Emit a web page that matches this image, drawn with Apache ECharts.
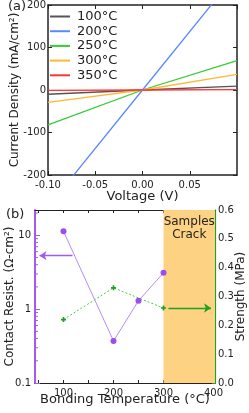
<!DOCTYPE html>
<html><head><meta charset="utf-8">
<script src="https://cdn.jsdelivr.net/npm/echarts@6/dist/echarts.min.js"></script>
<style>html,body{margin:0;padding:0;background:#fff}#c{width:249px;height:413px}</style>
</head><body><div id="c"></div>
<script>
// ---- Panel (a): I-V curves ----
const voltage = [-0.1, 0, 0.1];
const ivLabels = ['100°C', '200°C', '250°C', '300°C', '350°C'];
const j100 = [-10, 0, 9];
const j200 = [-275, 0, 275];
const j250 = [-82, 0, 69];
const j300 = [-29, 0, 37];
const j350 = [-1, 0, 1];

// ---- Panel (b): contact resistance & strength ----
const bondTemp = [100, 200, 250, 300];
const contactResist = [11.3, 0.37, 1.3, 3.1];
const strengthTemp = [100, 200, 300];
const strength = [0.22, 0.33, 0.26];
const crackRange = [300, 403];
const crackText = 'Samples\nCrack';
const resistArrow = [[118, 5.3], [52, 5.3]];
const strengthArrow = [[310, 0.26], [395, 0.26]];
const tempMin = 43, tempMax = 403;
const tempTicks = [50, 100, 150, 200, 250, 300, 350, 400];
const tempLabels = [100, 200, 300, 400];
const resistMinorTicks = [0.2, 0.3, 0.4, 0.5, 0.6, 0.7, 0.8, 0.9, 2, 3, 4, 5, 6, 7, 8, 9, 20];

const FONT = 'DejaVu Sans';
const INK = '#222';
const PURPLE = '#a05cf2';
const PURPLE_LINE = '#b98af5';
const GREEN_AX = '#1fa01f';
const GREEN_LINE = '#44cc44';
const GREEN_MK = '#20a020';
const ivColors = ['#555555', '#5b88ff', '#33cc33', '#ffb833', '#ff3333'];
const ivData = [j100, j200, j250, j300, j350];

const lbl = {fontSize: 10, color: INK, fontFamily: FONT};
const nameStyle = {fontSize: 12, color: INK, fontFamily: FONT};

const chart = echarts.init(document.getElementById('c'), null, {renderer: 'canvas'});
chart.setOption({
  animation: false,
  textStyle: {fontFamily: FONT},
  title: [
    {text: '(a)', left: 8, top: 0, padding: 0, textStyle: {fontSize: 13, fontWeight: 'normal', color: INK, fontFamily: FONT}},
    {text: '(b)', left: 6, top: 208, padding: 0, textStyle: {fontSize: 13, fontWeight: 'normal', color: INK, fontFamily: FONT}}
  ],
  legend: {
    orient: 'vertical', left: 50, top: 10, padding: 0,
    itemWidth: 20, itemHeight: 2, itemGap: 1.7, icon: 'rect',
    textStyle: {fontSize: 13, color: INK, fontFamily: FONT, lineHeight: 12, padding: [0, 0, 0, 2]},
    data: ivLabels
  },
  grid: [
    {left: 48, top: 5, width: 189, height: 170, containLabel: false, outerBoundsMode: 'none'},
    {left: 35, top: 210, width: 180, height: 173, containLabel: false, outerBoundsMode: 'none'}
  ],
  xAxis: [
    {gridIndex: 0, type: 'value', min: -0.1, max: 0.1, interval: 0.05,
     axisLine: {onZero: false, lineStyle: {color: INK, width: 1.5}},
     axisTick: {inside: true, length: 4, lineStyle: {color: INK}},
     axisLabel: Object.assign({margin: 5, showMaxLabel: false, formatter: v => v.toFixed(2)}, lbl),
     splitLine: {show: false},
     name: 'Voltage (V)', nameLocation: 'middle', nameGap: 15, nameMoveOverlap: false, nameTextStyle: Object.assign({}, nameStyle, {fontSize: 13})},
    {gridIndex: 0, type: 'value', position: 'top', min: -0.1, max: 0.1, interval: 0.05,
     axisLine: {onZero: false, lineStyle: {color: INK, width: 1.5}},
     axisTick: {inside: true, length: 4, lineStyle: {color: INK}},
     axisLabel: {show: false}, splitLine: {show: false}},
    {gridIndex: 1, type: 'value', min: tempMin, max: tempMax,
     axisLine: {onZero: false, lineStyle: {color: INK, width: 1.2}},
     axisTick: {inside: true, length: 3, customValues: tempTicks, lineStyle: {color: INK}},
     axisLabel: Object.assign({margin: 5, customValues: tempLabels}, lbl),
     splitLine: {show: false},
     name: 'Bonding Temperature (°C)', nameLocation: 'middle', nameGap: 10, nameMoveOverlap: false, nameTextStyle: Object.assign({}, nameStyle, {fontSize: 13})},
    {gridIndex: 1, type: 'value', position: 'top', min: tempMin, max: tempMax,
     axisLine: {onZero: false, lineStyle: {color: INK, width: 1.2}},
     axisTick: {inside: true, length: 3, customValues: tempTicks, lineStyle: {color: INK}},
     axisLabel: {show: false}, splitLine: {show: false}}
  ],
  yAxis: [
    {gridIndex: 0, type: 'value', min: -200, max: 200, interval: 100,
     axisLine: {onZero: false, lineStyle: {color: INK, width: 1.5}},
     axisTick: {inside: true, length: 4, lineStyle: {color: INK}},
     axisLabel: Object.assign({margin: 2}, lbl),
     splitLine: {show: false},
     name: 'Current Density (mA/cm²)', nameLocation: 'middle', nameGap: 27, nameMoveOverlap: false, nameRotate: 90, nameTextStyle: nameStyle},
    {gridIndex: 0, type: 'value', position: 'right', min: -200, max: 200, interval: 100,
     axisLine: {onZero: false, lineStyle: {color: INK, width: 1.5}},
     axisTick: {inside: true, length: 4, lineStyle: {color: INK}},
     axisLabel: {show: false}, splitLine: {show: false}},
    {gridIndex: 1, type: 'log', logBase: 10, min: 0.1, max: 22,
     axisLine: {onZero: false, lineStyle: {color: PURPLE, width: 2}},
     axisTick: {inside: true, length: 5, lineStyle: {color: PURPLE}},
     axisLabel: Object.assign({margin: 4, showMaxLabel: false}, lbl),
     splitLine: {show: false},
     name: 'Contact Resist. (Ω-cm²)', nameLocation: 'middle', nameGap: 19, nameMoveOverlap: false, nameRotate: 90, nameTextStyle: nameStyle},
    {gridIndex: 1, type: 'value', position: 'right', min: 0, max: 0.6, interval: 0.1,
     axisLine: {onZero: false, lineStyle: {color: GREEN_AX, width: 1.2}},
     axisTick: {inside: true, length: 3, lineStyle: {color: GREEN_AX}},
     axisLabel: Object.assign({margin: 3, formatter: v => v.toFixed(1)}, lbl),
     splitLine: {show: false},
     name: 'Strength (MPa)', nameLocation: 'middle', nameGap: 20, nameMoveOverlap: false, nameRotate: 90, nameTextStyle: nameStyle}
  ],
  series: ivLabels.map((name, k) => ({
    name: name, type: 'line', xAxisIndex: 0, yAxisIndex: 0,
    data: voltage.map((v, i) => [v, ivData[k][i]]),
    showSymbol: false, symbol: 'none', clip: true,
    lineStyle: {color: ivColors[k], width: 1.3},
    itemStyle: {color: ivColors[k]}
  })).concat([
    {name: 'Contact Resist.', type: 'line', xAxisIndex: 2, yAxisIndex: 2,
     data: bondTemp.map((t, i) => [t, contactResist[i]]),
     symbol: 'circle', symbolSize: 6,
     lineStyle: {color: PURPLE_LINE, width: 1},
     itemStyle: {color: '#9a4ef0'},
     markArea: {silent: true, itemStyle: {color: '#fdd283'},
       label: {show: true, position: 'insideTop', distance: 5, formatter: crackText, fontSize: 12, lineHeight: 13, color: INK, fontFamily: FONT},
       data: [[{xAxis: crackRange[0]}, {xAxis: crackRange[1]}]]},
     markLine: {silent: true, symbol: ['none', 'arrow'], symbolSize: 7,
       lineStyle: {color: PURPLE, width: 1.3, type: 'solid'}, label: {show: false},
       data: [[{coord: resistArrow[0]}, {coord: resistArrow[1]}]]}
    },
    {name: 'Strength', type: 'line', xAxisIndex: 2, yAxisIndex: 3,
     data: strengthTemp.map((t, i) => [t, strength[i]]),
     symbol: 'path://M2,0h2v2h2v2h-2v2h-2v-2h-2v-2h2z', symbolSize: 5,
     lineStyle: {color: GREEN_LINE, width: 1, type: [2, 2]},
     itemStyle: {color: GREEN_MK},
     markLine: {silent: true, symbol: ['none', 'arrow'], symbolSize: 7,
       lineStyle: {color: GREEN_MK, width: 1.3, type: 'solid'}, label: {show: false},
       data: [[{coord: strengthArrow[0]}, {coord: strengthArrow[1]}]]}
    },
    {name: 'minorTicks', type: 'custom', xAxisIndex: 2, yAxisIndex: 2, silent: true, z: 5,
     data: resistMinorTicks.map(v => [tempMin, v]),
     renderItem: function (params, api) {
       const p = api.coord([api.value(0), api.value(1)]);
       return {type: 'line', shape: {x1: p[0], y1: p[1], x2: p[0] + 3, y2: p[1]}, style: {stroke: PURPLE, lineWidth: 1}};
     }}
  ])
});
</script></body></html>
